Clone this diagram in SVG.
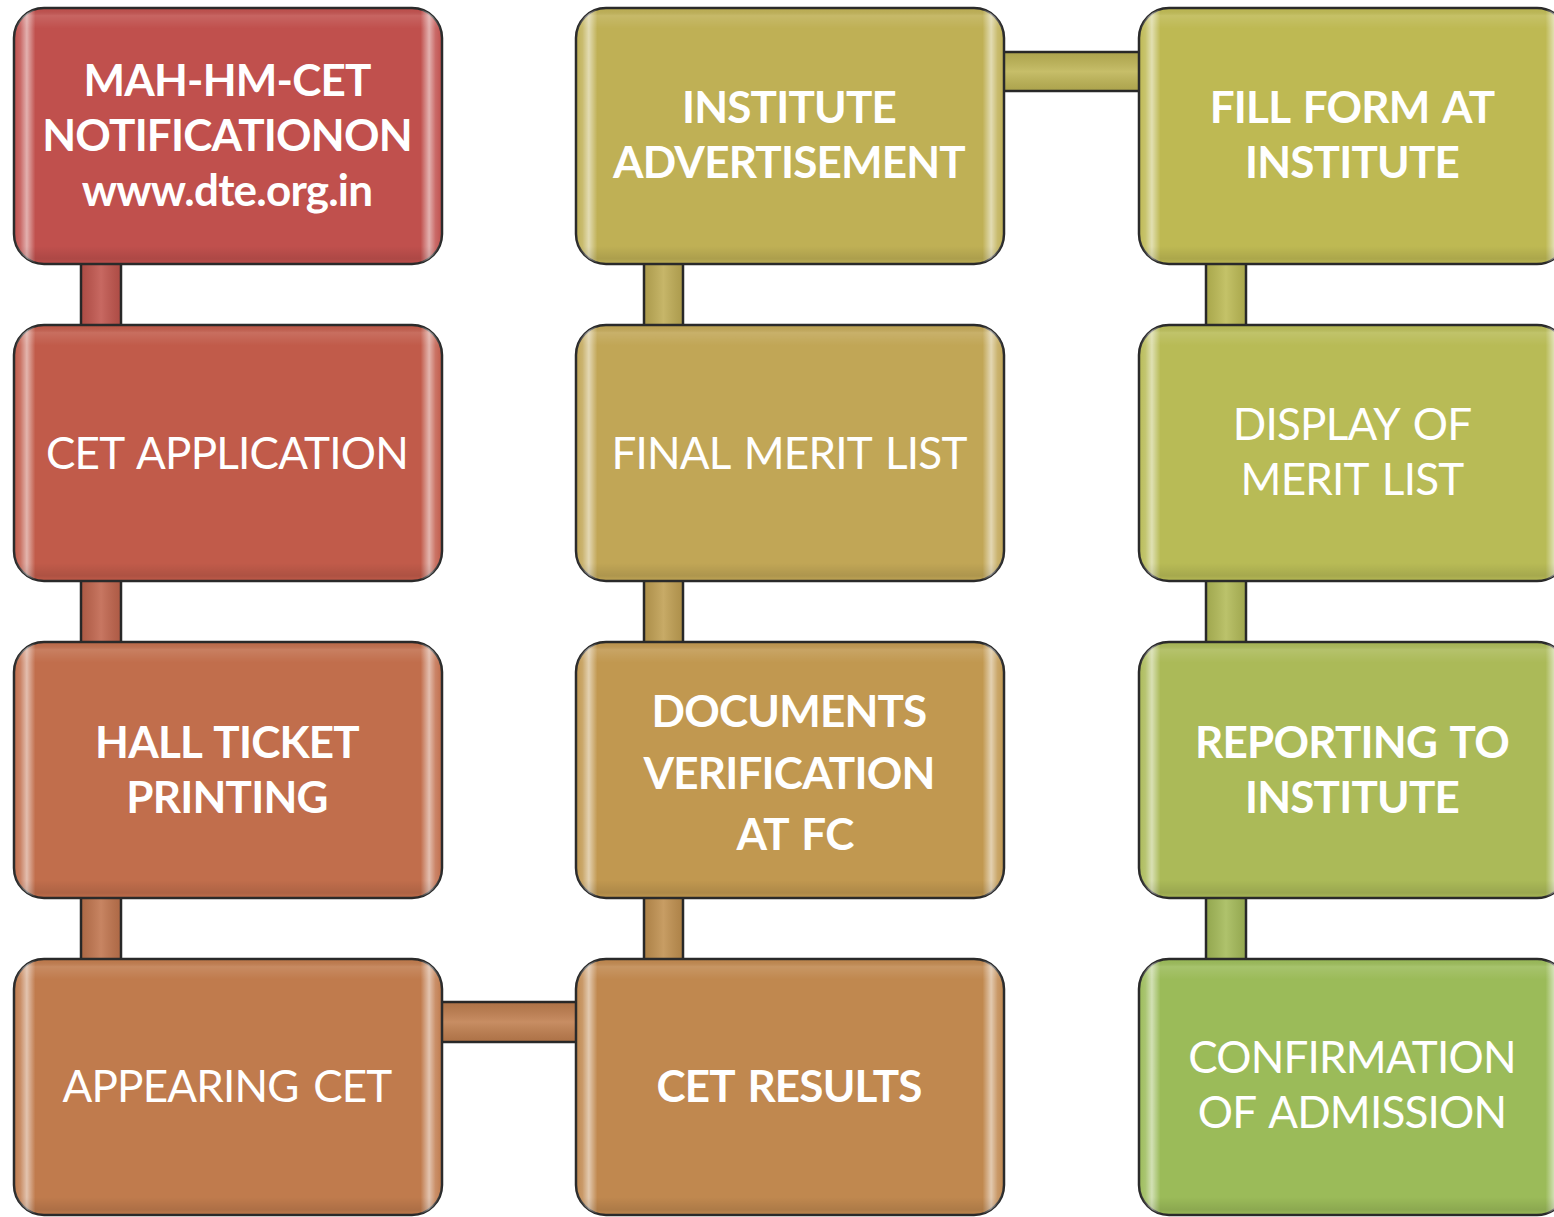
<svg xmlns="http://www.w3.org/2000/svg" width="1554" height="1217" viewBox="0 0 1554 1217">
<defs>
<linearGradient id="bev" x1="0" y1="0" x2="1" y2="0">
<stop offset="0" stop-color="#fff" stop-opacity="0"/>
<stop offset="0.015" stop-color="#fff" stop-opacity="0.15"/>
<stop offset="0.03" stop-color="#fff" stop-opacity="0.55"/>
<stop offset="0.05" stop-color="#fff" stop-opacity="0"/>
<stop offset="0.95" stop-color="#fff" stop-opacity="0"/>
<stop offset="0.97" stop-color="#fff" stop-opacity="0.55"/>
<stop offset="0.985" stop-color="#fff" stop-opacity="0.15"/>
<stop offset="1" stop-color="#fff" stop-opacity="0"/>
</linearGradient>
<linearGradient id="bevv" x1="0" y1="0" x2="0" y2="1">
<stop offset="0" stop-color="#000" stop-opacity="0"/>
<stop offset="0.03" stop-color="#fff" stop-opacity="0.12"/>
<stop offset="0.08" stop-color="#fff" stop-opacity="0"/>
<stop offset="0.93" stop-color="#000" stop-opacity="0"/>
<stop offset="0.98" stop-color="#000" stop-opacity="0.1"/>
<stop offset="1" stop-color="#000" stop-opacity="0"/>
</linearGradient>
<linearGradient id="barv" x1="0" y1="0" x2="1" y2="0">
<stop offset="0" stop-color="#000" stop-opacity="0.1"/>
<stop offset="0.5" stop-color="#fff" stop-opacity="0.12"/>
<stop offset="1" stop-color="#000" stop-opacity="0.1"/>
</linearGradient>
<linearGradient id="barh" x1="0" y1="0" x2="0" y2="1">
<stop offset="0" stop-color="#000" stop-opacity="0.1"/>
<stop offset="0.5" stop-color="#fff" stop-opacity="0.12"/>
<stop offset="1" stop-color="#000" stop-opacity="0.1"/>
</linearGradient>
</defs>
<style>
.box{stroke:#2a2a2a;stroke-width:2.5}
.ov{fill:url(#bev);stroke:none}
.ovv{fill:url(#bevv);stroke:none}
.bar{stroke:#2a2a2a;stroke-width:2.5}
.t{font-family:Lato,"Open Sans",sans-serif;font-size:44px;letter-spacing:-0.8px;word-spacing:4px;fill:#fff;text-anchor:middle}
.b{font-weight:bold}
</style>
<rect width="1554" height="1217" fill="#fff"/>
<g id="connectors">
<rect class="bar" x="81" y="255" width="40" height="80" fill="#C0544C"/>
<rect x="81" y="255" width="40" height="80" fill="url(#barv)"/>
<rect class="bar" x="81" y="572" width="40" height="80" fill="#C0644C"/>
<rect x="81" y="572" width="40" height="80" fill="url(#barv)"/>
<rect class="bar" x="81" y="889" width="40" height="80" fill="#C0744D"/>
<rect x="81" y="889" width="40" height="80" fill="url(#barv)"/>
<rect class="bar" x="432" y="1002" width="154" height="40" fill="#C07E4E"/>
<rect x="432" y="1002" width="154" height="40" fill="url(#barh)"/>
<rect class="bar" x="644" y="889" width="39" height="80" fill="#C0904F"/>
<rect x="644" y="889" width="39" height="80" fill="url(#barv)"/>
<rect class="bar" x="644" y="572" width="39" height="80" fill="#C09F52"/>
<rect x="644" y="572" width="39" height="80" fill="url(#barv)"/>
<rect class="bar" x="644" y="255" width="39" height="80" fill="#BFAC55"/>
<rect x="644" y="255" width="39" height="80" fill="url(#barv)"/>
<rect class="bar" x="994" y="52" width="154" height="39" fill="#BFB555"/>
<rect x="994" y="52" width="154" height="39" fill="url(#barh)"/>
<rect class="bar" x="1206" y="255" width="40" height="80" fill="#BCBA54"/>
<rect x="1206" y="255" width="40" height="80" fill="url(#barv)"/>
<rect class="bar" x="1206" y="572" width="40" height="80" fill="#B2BA57"/>
<rect x="1206" y="572" width="40" height="80" fill="url(#barv)"/>
<rect class="bar" x="1206" y="889" width="40" height="80" fill="#A4BA58"/>
<rect x="1206" y="889" width="40" height="80" fill="url(#barv)"/>
</g>
<g id="n1">
<rect class="box" x="14" y="8" width="428" height="256" rx="30" fill="#C0504D"/>
<rect class="ov" x="14" y="8" width="428" height="256" rx="30"/>
<rect class="ovv" x="14" y="8" width="428" height="256" rx="30"/>
<text class="t b" x="227" y="96">MAH-HM-CET</text>
<text class="t b" x="227" y="151">NOTIFICATIONON</text>
<text class="t b" x="227" y="206">www.dte.org.in</text>
</g>
<g id="n2">
<rect class="box" x="14" y="325" width="428" height="256" rx="30" fill="#C15B4A"/>
<rect class="ov" x="14" y="325" width="428" height="256" rx="30"/>
<rect class="ovv" x="14" y="325" width="428" height="256" rx="30"/>
<text class="t" x="227" y="469">CET APPLICATION</text>
</g>
<g id="n3">
<rect class="box" x="14" y="642" width="428" height="256" rx="30" fill="#C16E4C"/>
<rect class="ov" x="14" y="642" width="428" height="256" rx="30"/>
<rect class="ovv" x="14" y="642" width="428" height="256" rx="30"/>
<text class="t b" x="227" y="758">HALL TICKET</text>
<text class="t b" x="227" y="813">PRINTING</text>
</g>
<g id="n4">
<rect class="box" x="14" y="959" width="428" height="256" rx="30" fill="#C07B4D"/>
<rect class="ov" x="14" y="959" width="428" height="256" rx="30"/>
<rect class="ovv" x="14" y="959" width="428" height="256" rx="30"/>
<text class="t" x="227" y="1102">APPEARING CET</text>
</g>
<g id="n5">
<rect class="box" x="576" y="959" width="428" height="256" rx="30" fill="#C0884F"/>
<rect class="ov" x="576" y="959" width="428" height="256" rx="30"/>
<rect class="ovv" x="576" y="959" width="428" height="256" rx="30"/>
<text class="t b" x="789" y="1102">CET RESULTS</text>
</g>
<g id="n6">
<rect class="box" x="576" y="642" width="428" height="256" rx="30" fill="#C19850"/>
<rect class="ov" x="576" y="642" width="428" height="256" rx="30"/>
<rect class="ovv" x="576" y="642" width="428" height="256" rx="30"/>
<text class="t b" x="789" y="727">DOCUMENTS</text>
<text class="t b" x="789" y="789">VERIFICATION</text>
<text class="t b" x="795" y="850">AT FC</text>
</g>
<g id="n7">
<rect class="box" x="576" y="325" width="428" height="256" rx="30" fill="#C1A656"/>
<rect class="ov" x="576" y="325" width="428" height="256" rx="30"/>
<rect class="ovv" x="576" y="325" width="428" height="256" rx="30"/>
<text class="t" x="789" y="469">FINAL MERIT LIST</text>
</g>
<g id="n8">
<rect class="box" x="576" y="8" width="428" height="256" rx="30" fill="#BFB055"/>
<rect class="ov" x="576" y="8" width="428" height="256" rx="30"/>
<rect class="ovv" x="576" y="8" width="428" height="256" rx="30"/>
<text class="t b" x="789" y="123">INSTITUTE</text>
<text class="t b" x="789" y="178">ADVERTISEMENT</text>
</g>
<g id="n9">
<rect class="box" x="1139" y="8" width="428" height="256" rx="30" fill="#BEB953"/>
<rect class="ov" x="1139" y="8" width="428" height="256" rx="30"/>
<rect class="ovv" x="1139" y="8" width="428" height="256" rx="30"/>
<text class="t b" x="1352" y="123">FILL FORM AT</text>
<text class="t b" x="1352" y="178">INSTITUTE</text>
</g>
<g id="n10">
<rect class="box" x="1139" y="325" width="428" height="256" rx="30" fill="#B8BB56"/>
<rect class="ov" x="1139" y="325" width="428" height="256" rx="30"/>
<rect class="ovv" x="1139" y="325" width="428" height="256" rx="30"/>
<text class="t" x="1352" y="440">DISPLAY OF</text>
<text class="t" x="1352" y="495">MERIT LIST</text>
</g>
<g id="n11">
<rect class="box" x="1139" y="642" width="428" height="256" rx="30" fill="#ABBA58"/>
<rect class="ov" x="1139" y="642" width="428" height="256" rx="30"/>
<rect class="ovv" x="1139" y="642" width="428" height="256" rx="30"/>
<text class="t b" x="1352" y="758">REPORTING TO</text>
<text class="t b" x="1352" y="813">INSTITUTE</text>
</g>
<g id="n12">
<rect class="box" x="1139" y="959" width="428" height="256" rx="30" fill="#9BBB59"/>
<rect class="ov" x="1139" y="959" width="428" height="256" rx="30"/>
<rect class="ovv" x="1139" y="959" width="428" height="256" rx="30"/>
<text class="t" x="1352" y="1073">CONFIRMATION</text>
<text class="t" x="1352" y="1128">OF ADMISSION</text>
</g>
</svg>
